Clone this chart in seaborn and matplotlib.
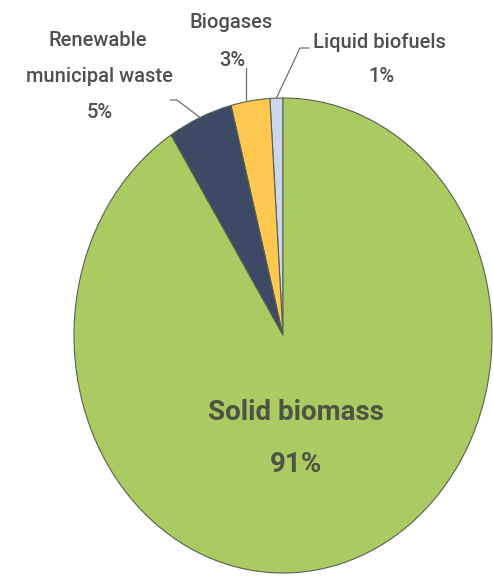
import numpy as np
import matplotlib
matplotlib.use("Agg")
import matplotlib.pyplot as plt
import seaborn as sns

# Bioenergy supply by source (shares, %)
sources = ["Solid biomass", "Renewable municipal waste", "Biogases", "Liquid biofuels"]
shares = [91, 5, 3, 1]
colors = ["#AACB62", "#3C4A66", "#FFC850", "#CDD7EB"]

sns.set_theme(style="white")
plt.rcParams["font.family"] = ["Roboto", "DejaVu Sans"]

W, H = 493, 576
fig = plt.figure(figsize=(W / 100, H / 100), dpi=100)
fig.patch.set_facecolor("white")

# Pie occupies an elliptical area (stretched vertically)
cx, cy, rx, ry = 283, 335.5, 209, 237.5
ax = fig.add_axes([(cx - rx) / W, (H - cy - ry) / H, 2 * rx / W, 2 * ry / H])

# Draw counterclockwise from the top, with solid biomass last so it fills the right side
order = [3, 2, 1, 0]
vals = [shares[i] for i in order]
cols = [colors[i] for i in order]
wedges, _ = ax.pie(vals, colors=cols, startangle=90, counterclock=True,
                   wedgeprops=dict(edgecolor="#5a6050", linewidth=0.8))
ax.set_aspect("auto")
ax.set_xlim(-1, 1)
ax.set_ylim(-1, 1)

txt = "#505050"
def px(x, y):
    """figure pixel -> axes data coordinates"""
    return (x - cx) / rx, (cy - y) / ry

def mid_point(w):
    a = np.deg2rad((w.theta1 + w.theta2) / 2)
    return np.cos(a), np.sin(a)

lab = {sources[i]: wedges[k] for k, i in enumerate(order)}

def put(x, y, s, size, color=txt, weight="medium"):
    X, Y = px(x, y)
    ax.text(X, Y, s, ha="center", va="center", fontsize=size, color=color,
            fontweight=weight, clip_on=False)

fs = 14.5
# Renewable municipal waste
put(98, 41, "Renewable", fs)
put(99, 77, "municipal waste", fs)
put(100, 112, f"{shares[1]}%", fs)
x0, y0 = mid_point(lab["Renewable municipal waste"])
p1, p2 = px(177, 100), px(170, 100)
ax.plot([x0, p1[0], p2[0]], [y0, p1[1], p2[1]], color="#707070", lw=0.9, clip_on=False)

# Biogases
put(231, 22, "Biogases", fs)
put(232, 60, f"{shares[2]}%", fs)
x0, y0 = mid_point(lab["Biogases"])
p1 = px(246, 68)
ax.plot([p1[0], p1[0]], [y0, p1[1]], color="#707070", lw=0.9, clip_on=False)

# Liquid biofuels
put(379, 42, "Liquid biofuels", fs)
put(381, 77, f"{shares[3]}%", fs)
x0, y0 = mid_point(lab["Liquid biofuels"])
p1, p2 = px(300, 48), px(309, 48)
ax.plot([x0, p1[0], p2[0]], [y0, p1[1], p2[1]], color="#707070", lw=0.9, clip_on=False)

# Solid biomass
put(296, 412, "Solid biomass", 20, "#4c5444", "bold")
put(296, 464, f"{shares[0]}%", 20, "#4c5444", "bold")

fig.savefig("out.png", dpi=100, facecolor="white")
